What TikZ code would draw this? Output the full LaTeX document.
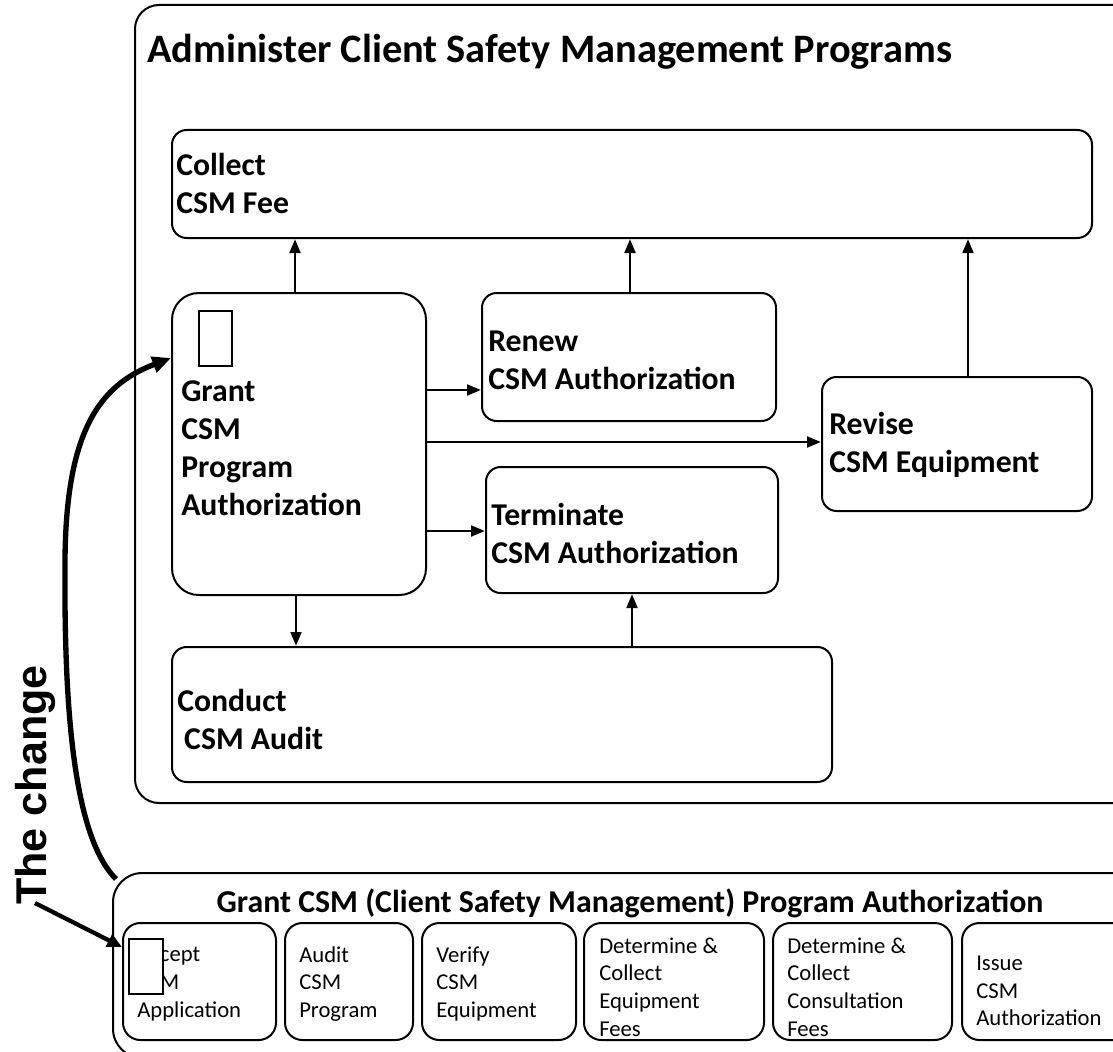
\documentclass[tikz,border=0pt]{standalone}
\usepackage{fontspec}
\setmainfont{Carlito}
\newfontfamily\arialfont{Liberation Sans}
\usetikzlibrary{arrows.meta,fit}
\begin{document}
\begin{tikzpicture}[x=0.75pt,y=-0.75pt,
  bx/.style={draw, line width=1.5pt, rounded corners=11pt, inner sep=0pt},
  subbx/.style={draw, line width=1.5pt, rounded corners=13pt, inner sep=0pt},
  lbl/.style={anchor=west, align=left, inner sep=0pt, font=\fontsize{23.8}{28.5}\selectfont\bfseries},
  sublbl/.style={anchor=west, align=left, inner sep=0pt, font=\fontsize{17}{20.7}\selectfont},
  flow/.style={line width=2.2pt, -{Triangle[length=10.5pt,width=8pt]}},
  bigflow/.style={line width=4pt, -{Triangle[length=14pt,width=12pt]}}]
\useasboundingbox (0,0) rectangle (1113,1052);
\clip (0,0) rectangle (1113,1052);
\fill[white] (0,0) rectangle (1113,1052);

% outer container
\node[bx, rounded corners=18pt, fit={(135,5) (1145,803)}] (outer) {};
\node[anchor=base west, inner sep=0pt, font=\fontsize{30.3}{36}\selectfont\bfseries] (title) at (147,63) {Administer Client Safety Management Programs};

% boxes
\node[bx, fit={(172,130) (1092,238)}] (collect) {};
\node[lbl] (collectT) at (176,183) {Collect\\CSM Fee};

\node[bx, rounded corners=20pt, fit={(172,293) (426,595)}] (grant) {};
\node[draw, line width=1.2pt, inner sep=0pt, fit={(199,311) (232,366)}] (grantmark) {};
\node[lbl] (grantT) at (181,448) {Grant\\CSM\\Program\\Authorization};

\node[bx, fit={(482,293) (776,421)}] (renew) {};
\node[lbl] (renewT) at (488,360) {Renew\\CSM Authorization};

\node[bx, fit={(822,377) (1092,511)}] (revise) {};
\node[lbl] (reviseT) at (829,445) {Revise\\CSM Equipment};

\node[bx, fit={(486,467) (778,593)}] (terminate) {};
\node[lbl] (terminateT) at (491,533) {Terminate\\CSM Authorization};

\node[bx, fit={(172,647) (832,782)}] (conduct) {};
\node[lbl] (conductT) at (177,719) {Conduct\\\hspace{0.22em}CSM Audit};

% arrows
\draw[flow] (grant.north -| 295,0) -- (collect.south -| 295,0);
\draw[flow] (renew.north -| 630,0) -- (collect.south -| 630,0);
\draw[flow] (revise.north -| 968,0) -- (collect.south -| 968,0);
\draw[flow] (grant.east |- 0,390) -- (renew.west |- 0,390);
\draw[flow] (grant.east |- 0,442) -- (revise.west |- 0,442);
\draw[flow] (grant.east |- 0,531) -- (terminate.west |- 0,531);
\draw[flow] (grant.south -| 296,0) -- (conduct.north -| 296,0);
\draw[flow] (conduct.north -| 632,0) -- (terminate.south -| 632,0);

% bottom container
\node[bx, rounded corners=22pt, fit={(113,873) (1150,1058)}] (bottom) {};
\node[anchor=base, inner sep=0pt, font=\fontsize{23.9}{28}\selectfont\bfseries] (bottomT) at (630,912) {Grant CSM (Client Safety Management) Program Authorization};

\node[subbx, fit={(123,923) (276,1040)}] (accept) {};
\node[sublbl] (acceptT) at (137,984) {Accept\\CSM\\Application};
\node[draw, fill=white, line width=1.2pt, inner sep=0pt, fit={(129,939) (163,994)}] (acceptmark) {};

\node[subbx, fit={(285,923) (413,1040)}] (audit) {};
\node[sublbl] (auditT) at (299,984) {Audit\\CSM\\Program};

\node[subbx, fit={(422,923) (576,1040)}] (verify) {};
\node[sublbl] (verifyT) at (436,984) {Verify\\CSM\\Equipment};

\node[subbx, fit={(584,923) (764,1040)}] (detequip) {};
\node[sublbl] (detequipT) at (599,987) {Determine \&\\Collect\\Equipment\\Fees};

\node[subbx, fit={(773,923) (952,1040)}] (detcons) {};
\node[sublbl] (detconsT) at (787,987) {Determine \&\\Collect\\Consultation\\Fees};

\node[subbx, fit={(962,923) (1140,1040)}] (issue) {};
\node[sublbl] (issueT) at (976,991) {Issue\\CSM\\Authorization};

% the change
\coordinate (cs) at (116,879);
\draw[bigflow] (cs) .. controls (72,835) and (64,700) .. (65,560) .. controls (66,430) and (100,385) .. (grant.west |- 0,358);
\node[rotate=90, anchor=base, inner sep=0pt, font=\arialfont\bfseries\fontsize{32.3}{38}\selectfont] (changeT) at (46,785) {The change};
\coordinate (ts) at (35,903);
\draw[line width=3.2pt, -{Triangle[length=11pt,width=10pt]}] (ts) -- (accept.west |- 0,947);
\end{tikzpicture}
\end{document}
